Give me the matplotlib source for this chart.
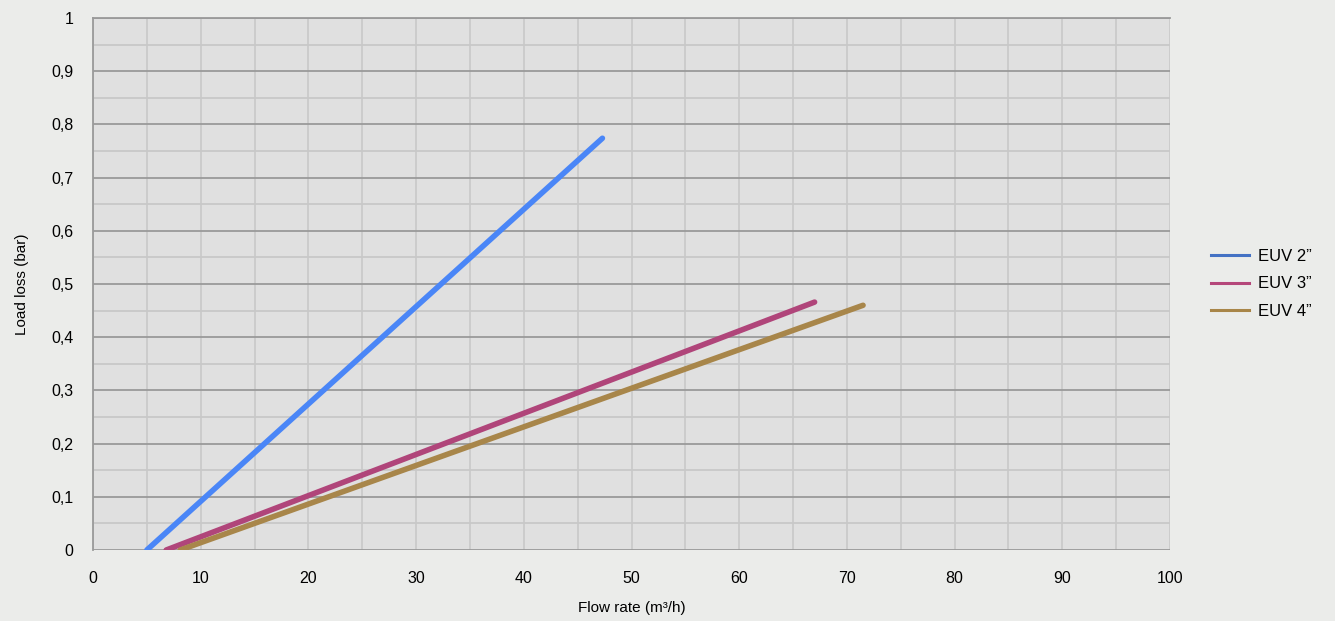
import matplotlib
matplotlib.use("Agg")
import matplotlib.pyplot as plt
from matplotlib.ticker import MultipleLocator, FuncFormatter
from matplotlib.lines import Line2D

plt.rcParams['font.family'] = ['Liberation Sans', 'DejaVu Sans']

series_names = ["EUV 2\u201d", "EUV 3\u201d", "EUV 4\u201d"]
euv2_x = [5.0, 47.3]
euv2_y = [0.0, 0.774]
euv3_x = [6.8, 67.0]
euv3_y = [0.0, 0.466]
euv4_x = [8.1, 71.5]
euv4_y = [0.0, 0.460]

line_colors = ["#4a86f7", "#b0457a", "#a8864a"]
legend_colors = ["#4472c4", "#b5477a", "#a88548"]

fig = plt.figure(figsize=(13.35, 6.21), dpi=100)
fig.patch.set_facecolor("#ebecea")
ax = fig.add_axes([93/1335, 1-550/621, (1170-93)/1335, (550-18)/621])
ax.set_facecolor("#e0e0e0")

for xs, ys, c in zip([euv2_x, euv3_x, euv4_x], [euv2_y, euv3_y, euv4_y], line_colors):
    ax.plot(xs, ys, color=c, lw=4, solid_capstyle="round", zorder=3)

ax.set_xlim(0, 100)
ax.set_ylim(0, 1)
ax.xaxis.set_major_locator(MultipleLocator(10))
ax.xaxis.set_minor_locator(MultipleLocator(5))
ax.yaxis.set_major_locator(MultipleLocator(0.1))
ax.yaxis.set_minor_locator(MultipleLocator(0.05))
ax.yaxis.set_major_formatter(FuncFormatter(lambda v, p: ("%g" % round(v, 2)).replace(".", ",")))
ax.xaxis.set_major_formatter(FuncFormatter(lambda v, p: "%d" % round(v)))

ax.grid(which="major", axis="y", color="#9a9a9a", lw=1.3)
ax.grid(which="minor", axis="y", color="#c8c8c8", lw=1.3)
ax.grid(which="both", axis="x", color="#c8c8c8", lw=1.2)
ax.set_axisbelow(True)

for s in ["right", "bottom"]:
    ax.spines[s].set_visible(False)
ax.spines["left"].set_color("#9a9a9a")
ax.spines["top"].set_color("#9a9a9a")
ax.spines["left"].set_linewidth(1.3)
ax.spines["top"].set_linewidth(1.3)

ax.tick_params(which="both", length=0, labelsize=11.5, colors="#000000")
ax.tick_params(axis="x", pad=15)
ax.tick_params(axis="y", pad=14)

ax.set_xlabel("Flow rate (m\u00b3/h)", fontsize=11, labelpad=11, color="#000000")
ax.set_ylabel("Load loss (bar)", fontsize=11, labelpad=16, color="#000000")

handles = [Line2D([0], [0], color=c, lw=2.2) for c in legend_colors]
leg = fig.legend(handles, series_names, loc="center left", bbox_to_anchor=(1196/1335, 1-284/621),
                 frameon=False, fontsize=12, handlelength=2.3, labelspacing=0.75, handletextpad=0.55)
for t in leg.get_texts():
    t.set_color("#000000")

fig.savefig("out.png", dpi=100, facecolor=fig.get_facecolor())
